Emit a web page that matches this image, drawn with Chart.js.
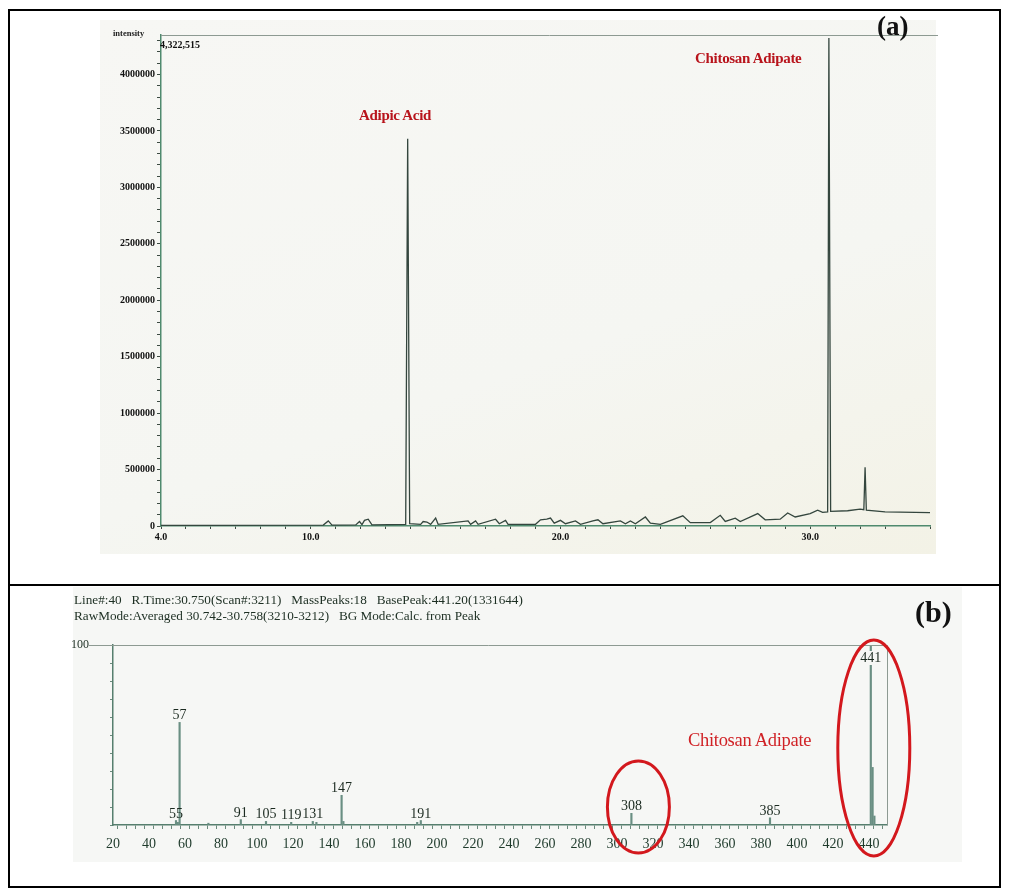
<!DOCTYPE html>
<html>
<head>
<meta charset="utf-8">
<script src="https://cdn.jsdelivr.net/npm/chart.js@4.4.1/dist/chart.umd.min.js"></script>
<style>
  html, body { margin:0; padding:0; background:#ffffff; }
  body { width:1012px; height:890px; position:relative; overflow:hidden; font-family:"Liberation Serif", "Times New Roman", serif; }
  .abs { position:absolute; white-space:nowrap; line-height:1; }
  canvas { display:block; }
</style>
</head>
<body>

<!-- figure frame -->
<div class="abs" style="left:8px;top:9px;width:993px;height:879px;border:2px solid #000;box-sizing:border-box;"></div>
<div class="abs" style="left:8px;top:584px;width:993px;height:2px;background:#000;"></div>

<!-- scanned panel backgrounds -->
<div class="abs" style="left:100px;top:20px;width:836px;height:534px;background:linear-gradient(160deg,#f7f7f4 0%,#f5f6f2 60%,#f3f2e6 100%);"></div>
<div class="abs" style="left:73px;top:587px;width:889px;height:275px;background:#f6f7f5;"></div>

<div class="abs" id="wrapA" style="left:100px;top:20px;width:840px;height:540px;"><canvas id="chartA" width="840" height="540"></canvas></div>
<div class="abs" id="wrapB" style="left:60px;top:587px;width:903px;height:275px;"><canvas id="chartB" width="903" height="275"></canvas></div>

<!-- panel (a) texts -->
<div class="abs" style="left:113px;top:29px;font-size:8.5px;font-weight:bold;color:#222;">intensity</div>
<div class="abs" style="left:359px;top:108px;font-size:15px;font-weight:bold;color:#b8141c;letter-spacing:-0.3px;">Adipic Acid</div>
<div class="abs" style="left:695px;top:51px;font-size:15px;font-weight:bold;color:#b8141c;letter-spacing:-0.3px;">Chitosan Adipate</div>
<div class="abs" style="left:877px;top:13px;font-size:27px;font-weight:bold;color:#111;">(a)</div>

<!-- panel (b) texts -->
<div class="abs" style="left:74px;top:593px;font-size:13.2px;color:#1c2e22;">Line#:40&nbsp;&nbsp;&nbsp;R.Time:30.750(Scan#:3211)&nbsp;&nbsp;&nbsp;MassPeaks:18&nbsp;&nbsp;&nbsp;BasePeak:441.20(1331644)</div>
<div class="abs" style="left:74px;top:609px;font-size:13.2px;color:#1c2e22;">RawMode:Averaged 30.742-30.758(3210-3212)&nbsp;&nbsp;&nbsp;BG Mode:Calc. from Peak</div>
<div class="abs" style="left:915px;top:597px;font-size:30px;font-weight:bold;color:#111;">(b)</div>
<div class="abs" style="left:688px;top:731px;font-size:18.5px;color:#d02226;letter-spacing:-0.3px;">Chitosan Adipate</div>

<script>
// ---------------- Panel (a): total ion chromatogram ----------------
// retention time (min)
const chromTime = [
  4.0, 10.5, 10.7, 10.85, 11.8, 11.95, 12.05, 12.15, 12.3, 12.45,
  13.8, 13.88, 13.96, 14.4, 14.5, 14.65, 14.8, 15.0, 15.1, 16.3,
  16.4, 16.6, 16.7, 17.4, 17.55, 17.8, 17.9, 19.0, 19.2, 19.45,
  19.6, 19.75, 20.0, 20.2, 20.6, 20.8, 21.3, 21.5, 21.7, 22.4,
  22.6, 22.8, 23.0, 23.4, 23.6, 24.0, 24.9, 25.2, 26.0, 26.4,
  26.6, 27.0, 27.2, 27.9, 28.2, 28.8, 29.1, 29.4, 30.0, 30.3,
  30.5, 30.7, 30.75, 30.82, 31.5, 32.0, 32.15, 32.2, 32.25, 33.0,
  34.8
];
// intensity (counts)
const chromIntensity = [
  5000, 8000, 45000, 8000, 10000, 40000, 12000, 50000, 60000, 10000,
  15000, 3430000, 20000, 15000, 40000, 35000, 15000, 70000, 15000, 45000,
  15000, 45000, 15000, 60000, 20000, 50000, 15000, 15000, 55000, 60000,
  70000, 25000, 50000, 20000, 45000, 15000, 45000, 55000, 20000, 45000,
  20000, 45000, 20000, 80000, 25000, 15000, 90000, 30000, 30000, 95000,
  40000, 70000, 40000, 110000, 55000, 60000, 115000, 80000, 110000, 140000,
  120000, 125000, 4322515, 130000, 135000, 150000, 145000, 520000, 140000, 125000,
  118000
];
const chromXLabels = [4, 10, 20, 30];
const chromYLabelStep = 500000;
const chromYMinorStep = 100000;

// ---------------- Panel (b): mass spectrum at R.Time 30.750 ----------------
const msMz     = [55, 56, 57, 73, 91, 105, 119, 131, 133, 147, 148, 189, 191, 308, 385, 441, 442, 443];
const msRelInt = [2.5, 1.5, 57, 1, 3, 2, 1.5, 2, 1.5, 16.5, 2, 1.5, 2.5, 6.5, 4, 100, 32, 5];
const msLabeled = [55, 57, 91, 105, 119, 131, 147, 191, 308, 385, 441];
const msXLabelStep = 20;
const msCircled = [308, 441];

const SERIF = '"Liberation Serif", "Times New Roman", serif';

// ---------- chart A ----------
const plotFrameA = {
  id: 'plotFrameA',
  afterDraw(chart) {
    const {ctx, chartArea: a} = chart;
    ctx.save();
    ctx.strokeStyle = '#8d9a92';
    ctx.lineWidth = 1;
    ctx.beginPath();
    ctx.moveTo(a.left, a.top + 0.5);
    ctx.lineTo(a.right + 8, a.top + 0.5);
    ctx.stroke();
    // maximum intensity label
    const maxVal = Math.max(...chromIntensity);
    ctx.fillStyle = '#111';
    ctx.font = 'bold 10px ' + SERIF;
    ctx.textAlign = 'left';
    ctx.textBaseline = 'alphabetic';
    ctx.fillText(maxVal.toLocaleString('en-US'), a.left - 1, a.top + 13);
    ctx.restore();
  }
};

new Chart(document.getElementById('chartA'), {
  type: 'line',
  data: {
    datasets: [{
      data: chromTime.map((t, i) => ({x: t, y: chromIntensity[i]})),
      borderColor: '#34463e',
      borderWidth: 1.3,
      pointRadius: 0,
      tension: 0,
      fill: false
    }]
  },
  options: {
    responsive: false,
    animation: false,
    layout: {padding: {left: 0, top: 15, right: 10, bottom: 0}},
    plugins: {legend: {display: false}, tooltip: {enabled: false}},
    scales: {
      x: {
        type: 'linear', min: 4, max: 34.8,
        afterFit(s) { s.height = 34; },
        ticks: {
          stepSize: 1, autoSkip: false, maxRotation: 0, padding: 2,
          color: '#111', font: {family: SERIF, size: 10, weight: 'bold'},
          callback: v => chromXLabels.includes(v) ? Number(v).toFixed(1) : ''
        },
        grid: {display: true, drawOnChartArea: false, tickLength: 3, color: '#3c4a42'},
        border: {color: '#4f8a6e', width: 1.5}
      },
      y: {
        min: 0, max: 4350000,
        afterFit(s) { s.width = 61; },
        afterBuildTicks(s) {
          const t = [];
          for (let v = 0; v <= s.max; v += chromYMinorStep) t.push({value: v});
          s.ticks = t;
        },
        ticks: {
          autoSkip: false, padding: 2,
          color: '#111', font: {family: SERIF, size: 10, weight: 'bold'},
          callback: v => (Math.abs(v / chromYLabelStep - Math.round(v / chromYLabelStep)) < 1e-6) ? String(Math.round(v)) : ''
        },
        grid: {display: true, drawOnChartArea: false, tickLength: 4, color: '#3c4a42'},
        border: {color: '#4f8a6e', width: 1.5}
      }
    }
  },
  plugins: [plotFrameA]
});

// ---------- chart B ----------
const msAnnot = {
  id: 'msAnnot',
  afterDraw(chart) {
    const {ctx, chartArea: a, scales: {x, y}} = chart;
    ctx.save();
    // frame: top and right
    ctx.strokeStyle = '#8d9a92';
    ctx.lineWidth = 1;
    ctx.beginPath();
    ctx.moveTo(a.left - 24, a.top + 0.5);
    ctx.lineTo(a.right + 0.5, a.top + 0.5);
    ctx.lineTo(a.right + 0.5, a.bottom);
    ctx.stroke();
    // peak labels
    ctx.font = '14px ' + SERIF;
    ctx.textAlign = 'center';
    ctx.textBaseline = 'alphabetic';
    msLabeled.forEach(m => {
      const i = msMz.indexOf(m);
      const px = x.getPixelForValue(m);
      const top = y.getPixelForValue(msRelInt[i]);
      let base = top - 3;
      const minBase = a.top + 17;
      if (base < minBase) {
        base = minBase;
        const w = ctx.measureText(String(m)).width;
        ctx.fillStyle = '#f6f7f5';
        ctx.fillRect(px - w / 2 - 1, base - 11, w + 2, 14);
      }
      ctx.fillStyle = '#1b2a20';
      ctx.fillText(String(m), px, base);
    });
    // red circles around the chitosan adipate ions
    const ellipseStyle = {308: {dx: 7, dy: -18, rx: 31, ry: 46}, 441: {dx: 3, dy: -77, rx: 36, ry: 108}};
    ctx.strokeStyle = '#d3181d';
    ctx.lineWidth = 3;
    msCircled.forEach(m => {
      const st = ellipseStyle[m];
      const cx = x.getPixelForValue(m) + st.dx;
      const cy = y.getPixelForValue(0) + st.dy;
      ctx.beginPath();
      ctx.ellipse(cx, cy, st.rx, st.ry, 0, 0, Math.PI * 2);
      ctx.stroke();
    });
    ctx.restore();
  }
};

new Chart(document.getElementById('chartB'), {
  type: 'bar',
  data: {
    datasets: [{
      data: msMz.map((m, i) => ({x: m, y: msRelInt[i]})),
      backgroundColor: '#6a8f83',
      borderWidth: 0,
      barThickness: 1.5
    }]
  },
  options: {
    responsive: false,
    animation: false,
    layout: {padding: {left: 0, top: 58, right: 76, bottom: 0}},
    plugins: {legend: {display: false}, tooltip: {enabled: false}},
    scales: {
      x: {
        type: 'linear', min: 20, max: 450, offset: false,
        afterFit(s) { s.height = 37; },
        ticks: {
          stepSize: 5, autoSkip: false, maxRotation: 0, padding: 7,
          color: '#1e3a2b', font: {family: SERIF, size: 14},
          callback: v => (v % msXLabelStep === 0 && v <= 440) ? String(v) : ''
        },
        grid: {display: true, drawOnChartArea: false, tickLength: 4, color: '#6b8a7c'},
        border: {color: '#567f6e', width: 1.5}
      },
      y: {
        min: 0, max: 100,
        afterFit(s) { s.width = 53; },
        ticks: {
          stepSize: 10, autoSkip: false, padding: 21,
          color: '#1c2e22', font: {family: SERIF, size: 12},
          callback: v => v === 100 ? '100' : ''
        },
        grid: {display: true, drawOnChartArea: false, tickLength: 3, color: '#6b8a7c'},
        border: {color: '#567f6e', width: 1.5}
      }
    }
  },
  plugins: [msAnnot]
});
</script>
</body>
</html>
